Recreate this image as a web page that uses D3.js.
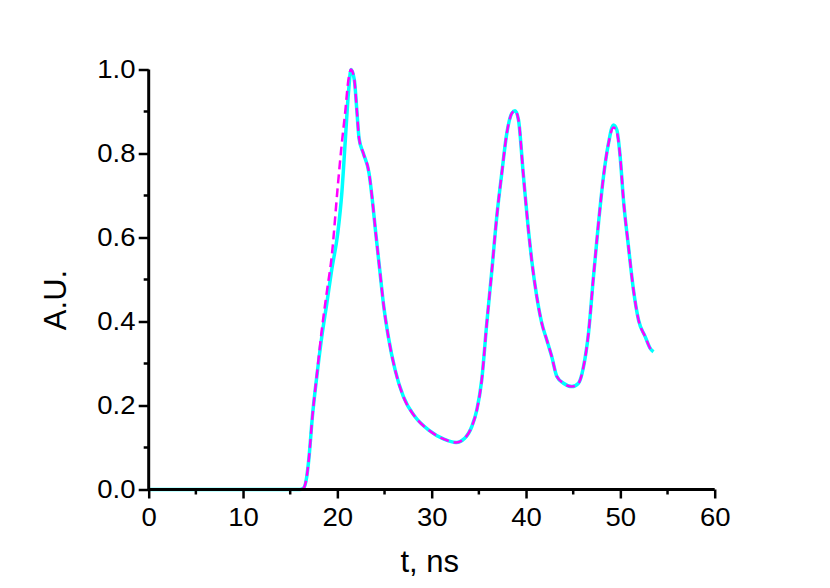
<!DOCTYPE html>
<html>
<head>
<meta charset="utf-8">
<script src="https://cdn.jsdelivr.net/npm/d3@7"></script>
<style>
  body { margin: 0; background: #fff; }
  text { font-family: "Liberation Sans", Arial, sans-serif; fill: #000; }
</style>
</head>
<body>
<div class="viz"></div>
<script>
const width = 830;
const height = 588;
const margin = {top: 69.5, left: 148.7, bottom: 98.5, right: 115.3};
const plotWidth = width - (margin.left + margin.right);
const plotHeight = height - (margin.top + margin.bottom);

// time axis, ns
const tValues = [0, 5, 10, 15, 16.0, 16.4, 16.75, 17.0, 17.35, 17.82, 18.35, 18.88, 19.4, 20.04, 20.47,
  20.82, 21.17, 21.45, 21.8, 22.06, 22.3, 22.76, 23.36, 23.71, 24.07, 24.53, 24.88, 25.4, 26.12, 27.0,
  28.24, 29.65, 31.3, 32.6, 33.5, 34.25, 34.78, 35.3, 35.84, 36.37, 36.9, 37.43, 37.96, 38.5, 38.84,
  39.2, 39.7, 40.25, 40.6, 41.14, 41.67, 42.2, 42.73, 43.27, 43.97, 44.86, 45.56, 46.09, 46.62, 47.15,
  47.68, 48.21, 48.74, 49.27, 49.63, 49.98, 50.33, 50.86, 51.39, 51.92, 52.63, 53.16, 53.51];

// solid cyan curve
const cyanValues = [0, 0, 0, 0, 0, 0.003, 0.03, 0.078, 0.173, 0.269, 0.364, 0.443, 0.523, 0.61, 0.705,
  0.824, 0.943, 1.0, 0.975, 0.904, 0.836, 0.8, 0.753, 0.689, 0.61, 0.515, 0.443, 0.364, 0.285, 0.221,
  0.173, 0.142, 0.12, 0.112, 0.122, 0.15, 0.189, 0.26, 0.396, 0.52, 0.65, 0.753, 0.848, 0.896, 0.902,
  0.88, 0.753, 0.618, 0.546, 0.459, 0.396, 0.356, 0.316, 0.269, 0.253, 0.245, 0.253, 0.292, 0.372, 0.507,
  0.634, 0.745, 0.824, 0.868, 0.856, 0.792, 0.689, 0.578, 0.475, 0.404, 0.364, 0.336, 0.328];

// dashed magenta curve (rises a little earlier on the first peak)
const magentaValues = [0, 0, 0, 0, 0, 0.003, 0.03, 0.078, 0.173, 0.272, 0.38, 0.47, 0.555, 0.721, 0.824,
  0.896, 0.975, 1.0, 0.975, 0.904, 0.836, 0.8, 0.753, 0.689, 0.61, 0.515, 0.443, 0.364, 0.285, 0.221,
  0.173, 0.142, 0.12, 0.112, 0.122, 0.15, 0.189, 0.26, 0.396, 0.52, 0.65, 0.753, 0.848, 0.896, 0.902,
  0.88, 0.753, 0.618, 0.546, 0.459, 0.396, 0.356, 0.316, 0.269, 0.253, 0.245, 0.253, 0.292, 0.372, 0.507,
  0.634, 0.745, 0.824, 0.862, 0.85, 0.792, 0.689, 0.578, 0.475, 0.404, 0.364, 0.336, 0.328];

const xTicks = [0, 10, 20, 30, 40, 50, 60];
const xMinorTicks = [5, 15, 25, 35, 45, 55];
const yTicks = [0, 0.2, 0.4, 0.6, 0.8, 1.0];
const yMinorTicks = [0.1, 0.3, 0.5, 0.7, 0.9];

const xScale = d3.scaleLinear().domain([0, 60]).range([0, plotWidth]);
const yScale = d3.scaleLinear().domain([0, 1]).range([plotHeight, 0]);

const svg = d3.select('.viz')
  .append('svg')
    .attr('width', width)
    .attr('height', height);

const plot = svg.append('g')
  .attr('transform', `translate(${margin.left},${margin.top})`);

// curves
const line = d3.line()
  .x((d, i) => xScale(tValues[i]))
  .y(d => yScale(d))
  .curve(d3.curveMonotoneX);

plot.append('path')
  .datum(cyanValues)
  .attr('fill', 'none')
  .attr('stroke', '#00ffff')
  .attr('stroke-width', 3.5)
  .attr('stroke-linejoin', 'round')
  .attr('d', line);

plot.append('path')
  .datum(magentaValues)
  .attr('fill', 'none')
  .attr('stroke', '#ff00ff')
  .attr('stroke-width', 2.5)
  .attr('stroke-dasharray', '9,5')
  .attr('d', line);

// axes
const xAxis = plot.append('g')
  .attr('transform', `translate(0,${plotHeight})`)
  .call(d3.axisBottom(xScale).tickValues(xTicks).tickFormat(d3.format('d')).tickSize(9).tickPadding(10));

xAxis.selectAll('.minor')
  .data(xMinorTicks)
  .enter()
  .append('line')
    .attr('class', 'minor')
    .attr('x1', d => xScale(d))
    .attr('x2', d => xScale(d))
    .attr('y1', 0)
    .attr('y2', 5)
    .attr('stroke', '#000')
    .attr('stroke-width', 2.5);

const yAxis = plot.append('g')
  .call(d3.axisLeft(yScale).tickValues(yTicks).tickFormat(d3.format('.1f')).tickSize(10).tickPadding(2));

yAxis.selectAll('.minor')
  .data(yMinorTicks)
  .enter()
  .append('line')
    .attr('class', 'minor')
    .attr('y1', d => yScale(d))
    .attr('y2', d => yScale(d))
    .attr('x1', 0)
    .attr('x2', -5)
    .attr('stroke', '#000')
    .attr('stroke-width', 2.5);

plot.selectAll('.domain')
  .attr('stroke-width', 3)
  .attr('stroke', '#000');
plot.selectAll('.tick line')
  .attr('stroke-width', 2.5)
  .attr('stroke', '#000');
plot.selectAll('.tick text')
  .style('font-size', '25px')
  .style('font-family', '"Liberation Sans", Arial, sans-serif')
  .attr('fill', '#000')
  .attr('transform', 'scale(1.1,1)');

// the outer end caps of the domain path are not wanted
xAxis.select('.domain').attr('d', `M0,0H${plotWidth}`);
yAxis.select('.domain').attr('d', `M0,${plotHeight}V0`);

// axis titles
svg.append('text')
  .attr('x', margin.left + plotWidth / 2 - 2)
  .attr('y', 572)
  .attr('text-anchor', 'middle')
  .style('font-size', '31px')
  .text('t, ns');

svg.append('text')
  .attr('transform', `translate(66,300) rotate(-90)`)
  .attr('text-anchor', 'middle')
  .style('font-size', '31px')
  .text('A.U.');
</script>
</body>
</html>
